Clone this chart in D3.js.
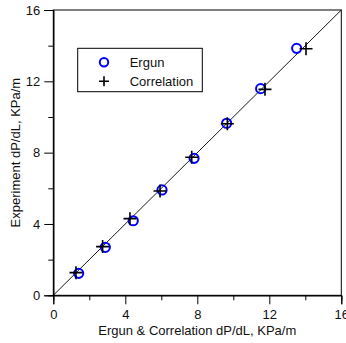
<!DOCTYPE html>
<html>
<head>
<meta charset="utf-8">
<script src="https://cdn.jsdelivr.net/npm/d3@7"></script>
<style>
  body { margin: 0; background: #fff; }
  svg { display: block; font-family: "Liberation Sans", Arial, sans-serif; }
</style>
</head>
<body>
<svg width="346" height="343"></svg>
<script>
// values
const ergunX = [1.41, 2.89, 4.44, 6.04, 7.82, 9.63, 11.52, 13.52]
const ergunY = [1.23, 2.69, 4.18, 5.91, 7.68, 9.65, 11.59, 13.85]
const corrX = [1.26, 2.74, 4.26, 5.93, 7.69, 9.67, 11.76, 14.04]
const corrY = [1.27, 2.73, 4.30, 5.85, 7.74, 9.62, 11.55, 13.83]
const majorTicks = [0, 4, 8, 12, 16]
const minorTicks = [2, 6, 10, 14]
const legendLabels = ['Ergun', 'Correlation']

const svg = d3.select('svg')

const x = d3.scaleLinear().domain([0, 16]).range([53.3, 341.3])
const y = d3.scaleLinear().domain([0, 16]).range([295.3, 10])

// frame
svg.append('rect')
  .attr('x', x(0)).attr('y', y(16))
  .attr('width', x(16) - x(0)).attr('height', y(0) - y(16))
  .attr('fill', 'none').attr('stroke', '#000').attr('stroke-width', 1)

const xAxis = svg.append('g')
  .attr('transform', `translate(0,${y(0)})`)
  .call(d3.axisBottom(x).tickValues(majorTicks).tickSize(9).tickPadding(5).tickFormat(d3.format('d')))
xAxis.append('g')
  .call(d3.axisBottom(x).tickValues(minorTicks).tickSize(5).tickFormat(''))

const yAxis = svg.append('g')
  .attr('transform', `translate(${x(0)},0)`)
  .call(d3.axisLeft(y).tickValues(majorTicks).tickSize(9).tickPadding(4).tickFormat(d3.format('d')))
yAxis.append('g')
  .call(d3.axisLeft(y).tickValues(minorTicks).tickSize(5).tickFormat(''))

svg.selectAll('.domain').attr('stroke', '#000')
svg.selectAll('.tick line').attr('stroke', '#000')
svg.selectAll('.tick text')
  .attr('font-size', 13)
  .attr('fill', '#111')
  .attr('font-family', '"Liberation Sans", Arial, sans-serif')

// 1:1 line
svg.append('line')
  .attr('x1', x(0)).attr('y1', y(0))
  .attr('x2', x(16)).attr('y2', y(16))
  .attr('stroke', '#000').attr('stroke-width', 0.9)

// Ergun circles
svg.append('g')
  .selectAll('circle')
  .data(d3.zip(ergunX, ergunY))
  .enter().append('circle')
    .attr('cx', d => x(d[0]))
    .attr('cy', d => y(d[1]))
    .attr('r', 4.6)
    .attr('fill', 'none')
    .attr('stroke', '#0000ff')
    .attr('stroke-width', 2)

// Correlation crosses
const plus = d3.symbol().type(d3.symbolCross)
const plusPath = (cx, cy, s) => `M${cx - s},${cy}H${cx + s}M${cx},${cy - s}V${cy + s}`
svg.append('g')
  .selectAll('path')
  .data(d3.zip(corrX, corrY))
  .enter().append('path')
    .attr('d', d => plusPath(x(d[0]), y(d[1]), 6.5))
    .attr('fill', 'none')
    .attr('stroke', '#000')
    .attr('stroke-width', 1.6)

// legend
const legend = svg.append('g')
legend.append('rect')
  .attr('x', 77.7).attr('y', 48.3)
  .attr('width', 124.6).attr('height', 43.4)
  .attr('fill', '#fff').attr('stroke', '#000').attr('stroke-width', 1)
legend.append('circle')
  .attr('cx', 104).attr('cy', 62.3).attr('r', 4.2)
  .attr('fill', 'none').attr('stroke', '#0000ff').attr('stroke-width', 2)
legend.append('path')
  .attr('d', plusPath(104, 81.3, 5))
  .attr('stroke', '#000').attr('stroke-width', 1.6)
legend.selectAll('text')
  .data(legendLabels)
  .enter().append('text')
    .attr('x', 129.7)
    .attr('y', (d, i) => 67 + i * 19)
    .attr('font-size', 13)
    .attr('fill', '#111')
    .text(d => d)

// axis titles
svg.append('text')
  .attr('x', x(8)).attr('y', 335)
  .attr('text-anchor', 'middle')
  .attr('font-size', 13)
  .attr('fill', '#111')
  .text('Ergun & Correlation dP/dL, KPa/m')

svg.append('text')
  .attr('transform', `translate(20,${y(8)}) rotate(-90)`)
  .attr('text-anchor', 'middle')
  .attr('font-size', 13)
  .attr('fill', '#111')
  .text('Experiment dP/dL, KPa/m')
</script>
</body>
</html>
